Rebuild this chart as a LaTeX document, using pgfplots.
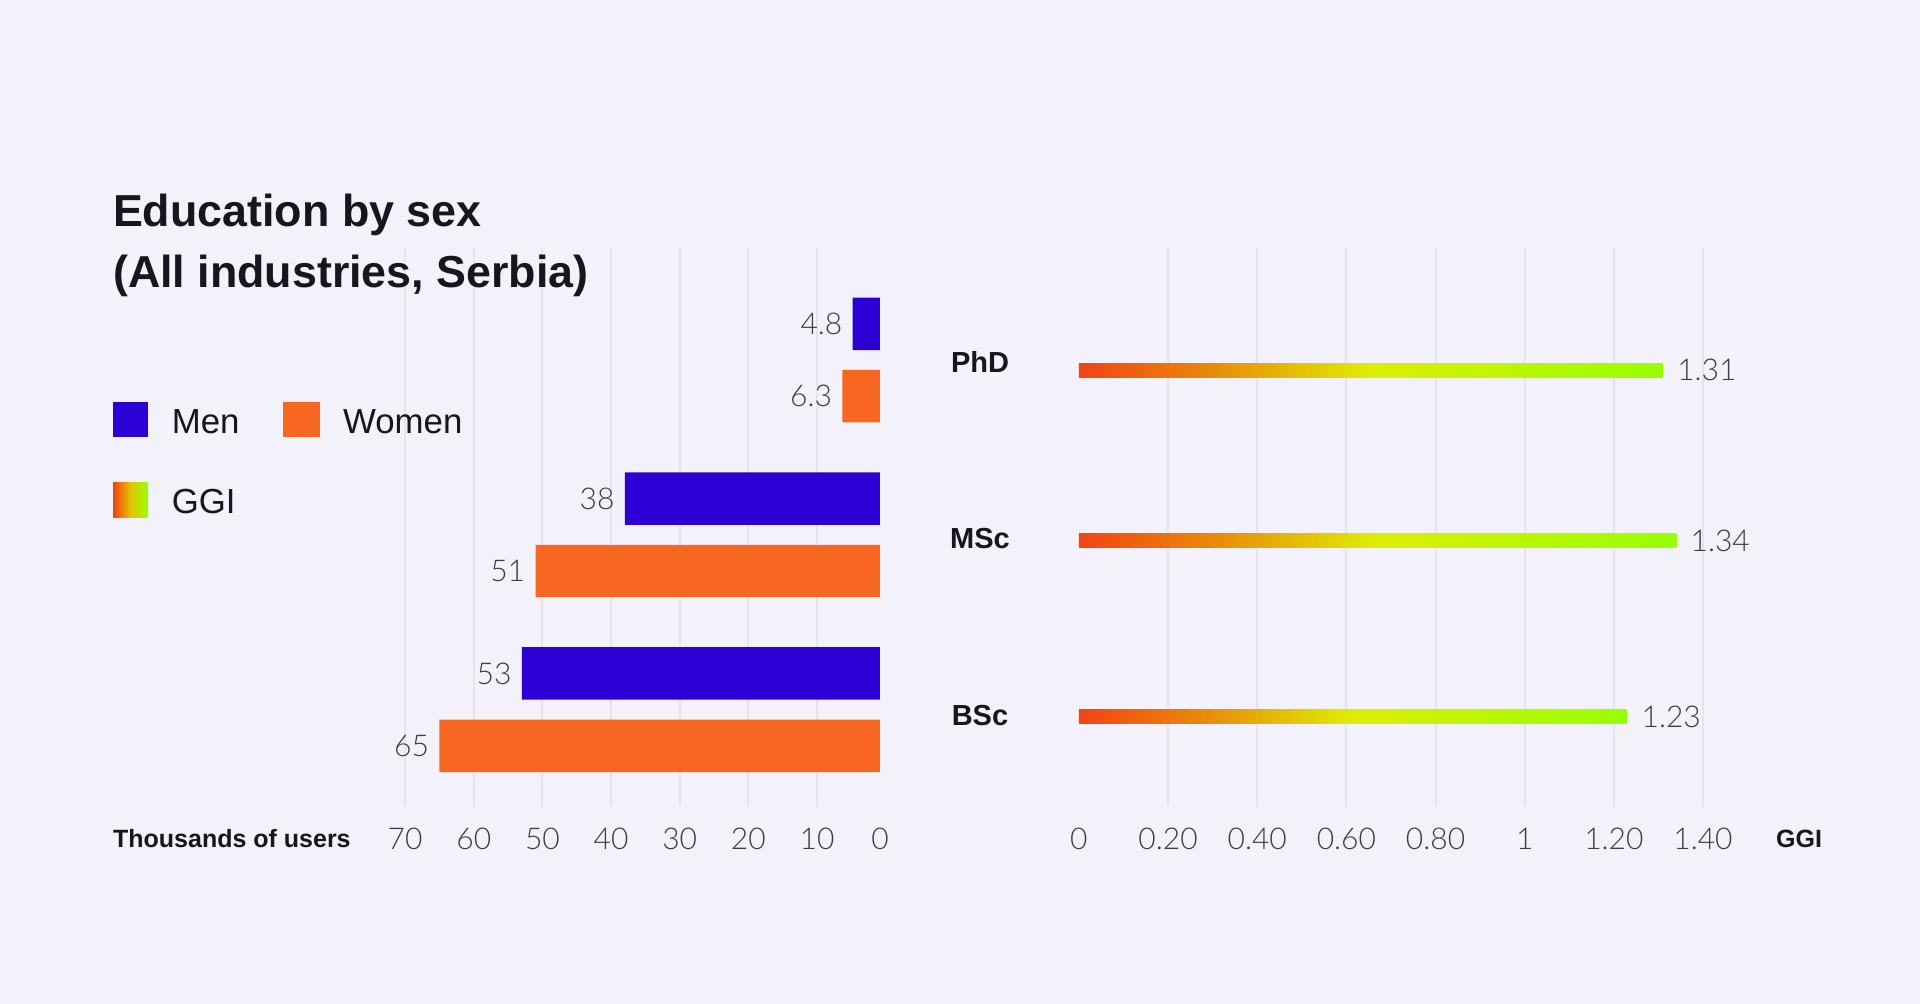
\documentclass[border=0pt]{standalone}
\usepackage{fontspec}
\setmainfont{Liberation Sans}
\newfontfamily\lightfont{Lato Light}
\usepackage{pgfplots}
\pgfplotsset{compat=1.18}
\definecolor{bg}{RGB}{243,242,251}
\definecolor{men}{RGB}{44,0,212}
\definecolor{women}{RGB}{247,103,33}
\definecolor{gridc}{RGB}{228,227,238}
\definecolor{txt}{RGB}{22,22,30}
\definecolor{num}{RGB}{60,60,70}
\definecolor{ggiA}{RGB}{242,68,20}
\definecolor{ggiB}{RGB}{234,135,10}
\definecolor{ggiC}{RGB}{222,238,0}
\definecolor{ggiD}{RGB}{150,255,0}
\pgfdeclarehorizontalshading{ggishade}{100bp}{color(0bp)=(ggiA); color(25bp)=(ggiA); color(36bp)=(ggiB); color(50bp)=(ggiC); color(75bp)=(ggiD); color(100bp)=(ggiD)}
\newcommand{\numfont}{\lightfont\fontsize{15}{18}\selectfont}
\begin{document}
\begin{tikzpicture}[x=1pt,y=1pt]
\fill[bg] (0,0) rectangle (960,502);
\useasboundingbox (0,0) rectangle (960,502);

\begin{axis}[
  at={(202.55pt,98.25pt)}, anchor=south west,
  scale only axis, width=237.45pt, height=279.5pt,
  xmin=0.83, xmax=70, x dir=reverse,
  ymin=-0.560, ymax=2.638,
  clip=false,
  axis line style={draw=none}, tick style={draw=none},
  xtick={10,20,30,40,50,60,70},
  xticklabels={10,20,30,40,50,60,70},
  extra x ticks={0.83}, extra x tick labels={0},
  extra x tick style={grid=none},
  xmajorgrids, major grid style={gridc, line width=1pt},
  ytick=\empty,
  xticklabel style={font=\numfont, text=num, anchor=center, yshift=-15.75pt},
  xbar, bar width=0.3, bar shift=0pt,
]
\addplot[fill=women, draw=none, nodes near coords, point meta=explicit symbolic,
  every node near coord/.append style={anchor=east, inner sep=0pt, xshift=-5pt, font=\numfont, text=num}]
  coordinates {(6.3,1.793) [6.3] (51,0.793) [51] (65,-0.207) [65]};
\addplot[fill=men, draw=none, nodes near coords, point meta=explicit symbolic,
  every node near coord/.append style={anchor=east, inner sep=0pt, xshift=-5pt, font=\numfont, text=num}]
  coordinates {(4.8,2.207) [4.8] (38,1.207) [38] (53,0.207) [53]};
\end{axis}
\fill[bg] (440,98) rectangle (446,378);

\begin{axis}[
  at={(539.45pt,98.25pt)}, anchor=south west,
  scale only axis, width=312.05pt, height=279.5pt,
  xmin=0, xmax=1.4,
  ymin=-0.560, ymax=2.638,
  clip=false,
  axis line style={draw=none}, tick style={draw=none},
  xtick={0.2,0.4,0.6,0.8,1,1.2,1.4},
  xticklabels={0.20,0.40,0.60,0.80,1,1.20,1.40},
  extra x ticks={0}, extra x tick labels={0},
  extra x tick style={grid=none},
  xmajorgrids, major grid style={gridc, line width=1pt},
  ytick=\empty,
  xticklabel style={font=\numfont, text=num, anchor=center, yshift=-15.75pt},
  xbar, bar width=0.08, bar shift=0pt,
]
\addplot[draw=none, shade, shading=ggishade, nodes near coords, point meta=explicit symbolic,
  every node near coord/.append style={anchor=west, inner sep=0pt, xshift=7pt, font=\numfont, text=num}]
  coordinates {(1.31,1.941) [1.31]};
\addplot[draw=none, shade, shading=ggishade, nodes near coords, point meta=explicit symbolic,
  every node near coord/.append style={anchor=west, inner sep=0pt, xshift=7pt, font=\numfont, text=num}]
  coordinates {(1.34,0.966) [1.34]};
\addplot[draw=none, shade, shading=ggishade, nodes near coords, point meta=explicit symbolic,
  every node near coord/.append style={anchor=west, inner sep=0pt, xshift=7pt, font=\numfont, text=num}]
  coordinates {(1.23,-0.041) [1.23]};
\node[xshift=-49.45pt, inner sep=0pt, text=txt, font=\bfseries\fontsize{14.5}{17}\selectfont] at (axis cs:0,1.987) {PhD};
\node[xshift=-49.45pt, inner sep=0pt, text=txt, font=\bfseries\fontsize{14.5}{17}\selectfont] at (axis cs:0,0.980) {MSc};
\node[xshift=-49.45pt, inner sep=0pt, text=txt, font=\bfseries\fontsize{14.5}{17}\selectfont] at (axis cs:0,-0.031) {BSc};
\end{axis}

% title
\node[anchor=base west, inner sep=0pt, text=txt, font=\bfseries\fontsize{22.4}{26}\selectfont] at (56.35,388.5) {Education by sex};
\node[anchor=base west, inner sep=0pt, text=txt, font=\bfseries\fontsize{22.4}{26}\selectfont] at (56.35,358) {(All industries, Serbia)};
% legend
\fill[men] (56.6,283.35) rectangle (74.05,300.85);
\node[anchor=west, inner sep=0pt, text=txt, font=\fontsize{17.4}{20}\selectfont] at (85.7,291.15) {Men};
\fill[women] (141.7,283.35) rectangle (159.75,300.85);
\node[anchor=west, inner sep=0pt, text=txt, font=\fontsize{17.4}{20}\selectfont] at (171.35,291.15) {Women};
\shade[left color=ggiA, right color=ggiD, middle color=ggiB!40!ggiC] (56.6,243.15) rectangle (74.05,260.85);
\node[anchor=west, inner sep=0pt, text=txt, font=\fontsize{17.4}{20}\selectfont] at (85.7,251.35) {GGI};
% axis titles
\node[anchor=west, inner sep=0pt, text=txt, font=\bfseries\fontsize{12.5}{15}\selectfont] at (56.35,82.5) {Thousands of users};
\node[anchor=center, inner sep=0pt, text=txt, font=\bfseries\fontsize{12.5}{15}\selectfont] at (899.5,82.5) {GGI};
\end{tikzpicture}
\end{document}
